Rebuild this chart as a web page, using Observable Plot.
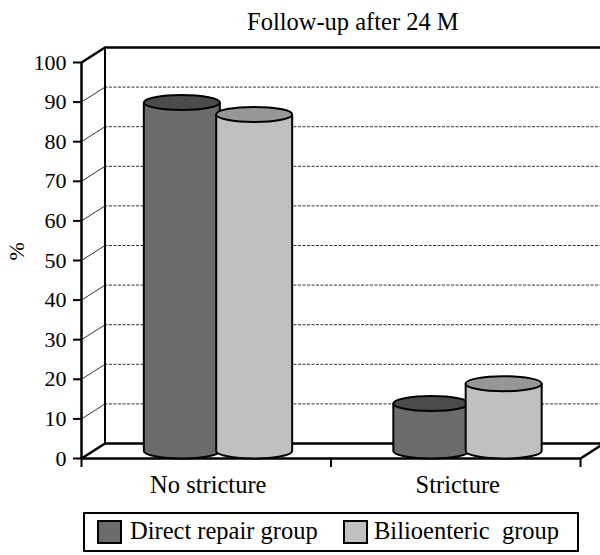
<!DOCTYPE html>
<html>
<head>
<meta charset="utf-8">
<script src="https://cdn.jsdelivr.net/npm/d3@7"></script>
<script src="https://cdn.jsdelivr.net/npm/@observablehq/plot@0.6"></script>
<style>
  html, body { margin: 0; padding: 0; background: #fff; }
  #wrap { position: relative; width: 600px; height: 555px; overflow: hidden; font-family: "Liberation Serif", "Times New Roman", serif; }
  #title { position: absolute; left: 247px; top: 8px; font-size: 24.5px; color: #000; white-space: nowrap; }
  #legend { position: absolute; left: 83px; top: 512px; width: 492px; height: 36px; border: 2.5px solid #000; box-sizing: content-box; }
  .sw { position: absolute; top: 6px; width: 21px; height: 20px; border: 2px solid #000; }
  .lt { position: absolute; top: 3px; font-size: 24.5px; white-space: pre; color: #000; }
  #chart { position: absolute; left: 0; top: 0; }
</style>
</head>
<body>
<div id="wrap">
  <div id="chart"></div>
  <div id="title"></div>
  <div id="legend"></div>
</div>
<script>
// ---- data ----
const title = "Follow-up after 24 M";
const categories = ["No stricture", "Stricture"];
const seriesNames = ["Direct repair group", "Bilioenteric  group"];
const directRepair = [88, 12];
const bilioenteric = [85, 17];
const yTicks = [0, 10, 20, 30, 40, 50, 60, 70, 80, 90, 100];
const gridValues = [10, 20, 30, 40, 50, 60, 70, 80, 90];
const yLabel = "%";

// ---- styles ----
const bodyColors = ["#6b6b6b", "#c0c0c0"];
const topColors = ["#4b4b4b", "#979797"];
const W = 600, H = 555, mL = 81, mR = 20, mT = 62, mB = 97;
const depthX = 23.5, depthY = 15;          // 3-D depth in px
const barOffset = [-0.145, 0.145];         // within category (x units)
const halfW = 38, ry = 7.5;                // cylinder half width / ellipse radius (px)

const pxPerX = (W - mL - mR) / 2;
const pxPerY = (H - mT - mB) / 100;
const dXd = depthX / pxPerX, dYd = depthY / pxPerY;

const rows = [];
[directRepair, bilioenteric].forEach((vals, s) => {
  vals.forEach((v, i) => rows.push({category: categories[i], ci: i, s, series: seriesNames[s], value: v, pos: i + 0.5 + barOffset[s]}));
});

const ellipse = {
  draw(ctx) {
    const a = halfW, b = ry, k = 0.5523;
    ctx.moveTo(a, 0);
    ctx.bezierCurveTo(a, k * b, k * a, b, 0, b);
    ctx.bezierCurveTo(-k * a, b, -a, k * b, -a, 0);
    ctx.bezierCurveTo(-a, -k * b, -k * a, -b, 0, -b);
    ctx.bezierCurveTo(k * a, -b, a, -k * b, a, 0);
    ctx.closePath();
  }
};

const cx = depthX / 2, cy = -depthY / 2;
function cylinderMarks(s) {
  const d = rows.filter(r => r.s === s);
  return [
    Plot.dot(d, {x: "pos", y: 0, r: 1, symbol: ellipse, fill: bodyColors[s], stroke: "#000", strokeWidth: 2, dx: cx, dy: cy}),
    Plot.ruleX(d, {x: "pos", y1: 0, y2: "value", stroke: bodyColors[s], strokeWidth: halfW * 2, dx: cx, dy: cy}),
    Plot.ruleX(d, {x: "pos", y1: 0, y2: "value", stroke: "#000", strokeWidth: 2, dx: cx - halfW, dy: cy}),
    Plot.ruleX(d, {x: "pos", y1: 0, y2: "value", stroke: "#000", strokeWidth: 2, dx: cx + halfW, dy: cy}),
    Plot.dot(d, {x: "pos", y: "value", r: 1, symbol: ellipse, fill: topColors[s], stroke: "#000", strokeWidth: 2, dx: cx, dy: cy})
  ];
}

const font = '"Liberation Serif", "Times New Roman", serif';

const chart = Plot.plot({
  width: W, height: H,
  marginLeft: mL, marginRight: mR, marginTop: mT, marginBottom: mB,
  style: {fontFamily: font, background: "transparent", overflow: "visible"},
  x: {domain: [0, 2]},
  y: {domain: [0, 100]},
  marks: [
    // back wall gridlines (dashed)
    Plot.ruleY(gridValues, {x1: 0, x2: 2, stroke: "#333", strokeWidth: 1, strokeDasharray: "3,1.5", dx: depthX, dy: -depthY}),
    // thin diagonals from front ticks to back wall
    Plot.link(gridValues, {x1: 0, y1: d => d, x2: dXd, y2: d => d + dYd, stroke: "#000", strokeWidth: 0.8}),
    // back wall edges
    Plot.ruleX([0], {y1: 0, y2: 100, stroke: "#000", strokeWidth: 2, dx: depthX, dy: -depthY}),
    Plot.ruleY([100, 0], {x1: 0, x2: 2, stroke: "#000", strokeWidth: 2.5, dx: depthX, dy: -depthY}),
    // thick diagonals (top corner and floor)
    Plot.link([{x: 0, y: 100}, {x: 0, y: 0}, {x: 2, y: 0}], {x1: "x", y1: "y", x2: d => d.x + dXd, y2: d => d.y + dYd, stroke: "#000", strokeWidth: 2.5}),
    // front floor edge and front axis line
    Plot.ruleY([0], {x1: 0, x2: 2, stroke: "#000", strokeWidth: 2.5}),
    Plot.ruleX([0], {y1: 0, y2: 100, stroke: "#000", strokeWidth: 2.5}),
    // axes
    Plot.axisY({ticks: yTicks, tickSize: 8, tickPadding: 7, fontSize: 22, label: null, strokeWidth: 2, color: "#000"}),
    Plot.axisX({ticks: [0, 1, 2], tickSize: 9, tickFormat: () => "", label: null, strokeWidth: 2}),
    Plot.text(categories, {x: (d, i) => i + 0.5, y: 0, dx: 2, dy: 27, fontSize: 24.5, fill: "#000"}),
    Plot.text([yLabel], {frameAnchor: "left", dx: -65, rotate: -90, fontSize: 22, fill: "#000"}),
    // cylinders
    ...cylinderMarks(0),
    ...cylinderMarks(1)
  ]
});
document.getElementById("chart").appendChild(chart);

document.getElementById("title").textContent = title;
const lg = document.getElementById("legend");
const swLeft = [12, 258], txtLeft = [45, 289];
seriesNames.forEach((name, s) => {
  const sw = document.createElement("div");
  sw.className = "sw"; sw.style.left = swLeft[s] + "px"; sw.style.background = bodyColors[s];
  lg.appendChild(sw);
  const t = document.createElement("div");
  t.className = "lt"; t.style.left = txtLeft[s] + "px"; t.textContent = name;
  lg.appendChild(t);
});
</script>
</body>
</html>
